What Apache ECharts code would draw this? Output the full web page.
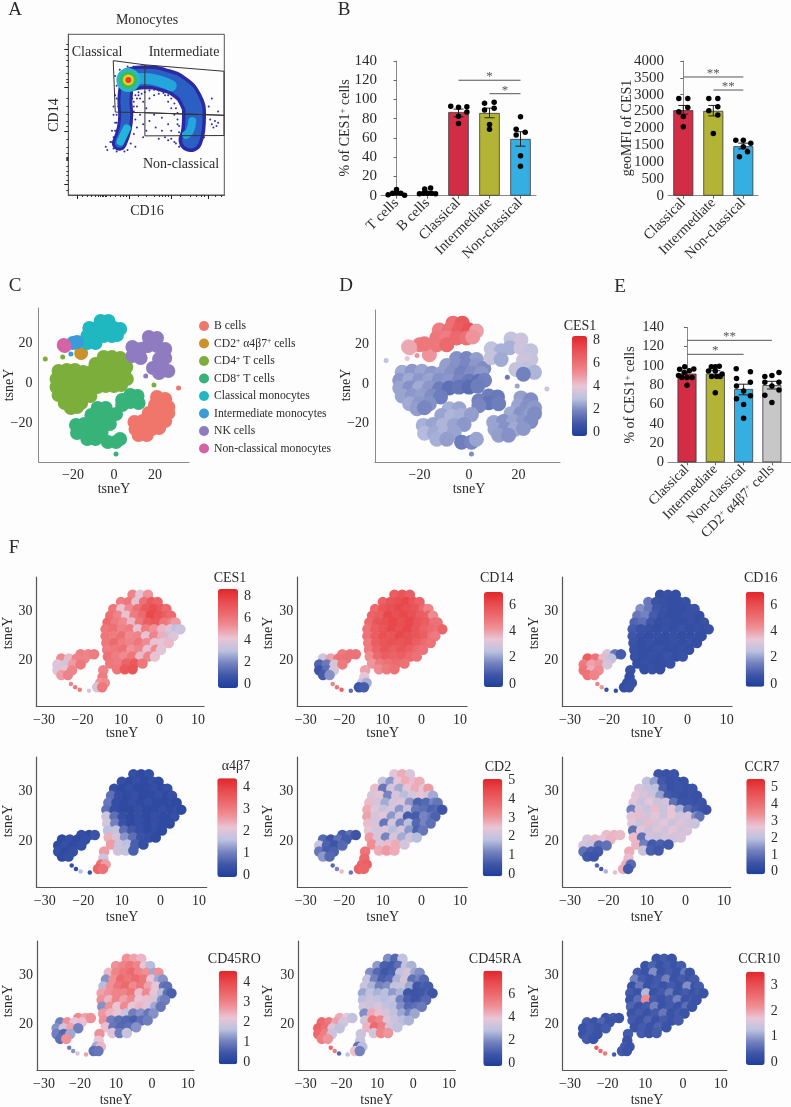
<!DOCTYPE html>
<html>
<head>
<meta charset="utf-8">
<style>
  html, body { margin: 0; background: #fdfdfd; }
  #main { width: 791px; height: 1107px; }
</style>
<script src="https://cdn.jsdelivr.net/npm/echarts@6/dist/echarts.min.js"></script>
</head>
<body>
<div id="main"></div>
<script>
// ---- panel A: gates, density ridges and stray events (percent of the plot box)
const gateClassical = [[28.8, 83.6], [49.1, 81], [49.1, 51.2], [30.1, 51.6], [28.8, 83.6]]
const gateIntermediate = [[49.1, 81], [99.8, 77], [99.8, 49.6], [49.1, 51.2]]
const gateNonClassical = [[49.1, 51.2], [99.8, 49.6], [99.8, 37], [49.1, 36.8], [49.1, 51.2]]
const flowArch = [[39.5, 72], [49.1, 73.2], [60.9, 71.6], [71.6, 67], [78.4, 59.1], [80.6, 49.8], [80.1, 40.5], [78.4, 34.2]]
const flowTail = [[38.5, 72], [36.3, 59], [36.8, 49.8], [35.9, 41.5], [32.7, 32.2]]
const flowArchCore = [[39.5, 72], [49.1, 72.5], [58, 71], [66, 68]]
const flowRightCore = [[79.5, 46], [78, 40], [75.5, 37.5]]
const flowTailCore = [[37.5, 41.5], [33.5, 33.2]]
const flowHot = [38.5, 71.6]
const flowSpecks = [[47, 80], [52, 79], [56, 78.5], [60, 78], [64, 77], [68, 75], [72, 73], [76, 70], [79, 68], [81, 65], [83, 62], [85, 58],
  [86, 54], [87, 50], [86, 46], [85, 42], [87, 36], [84, 32], [80, 31], [76, 30], [72, 31], [68, 33], [64, 34], [58, 35],
  [45, 62], [48, 58], [50, 54], [46, 50], [44, 55], [52, 60], [55, 62], [58, 63], [62, 62], [64, 58], [66, 54], [68, 50],
  [60, 48], [55, 50], [52, 46], [56, 42], [60, 40], [64, 44], [66, 40], [70, 44], [50, 40], [48, 44], [44, 42], [43, 47], [42, 58], [42, 52],
  [92, 44], [94, 46], [93, 42], [96, 45], [91, 47], [95, 43], [90, 55], [92, 60], [96, 52],
  [28, 40], [30, 45], [27, 33], [25, 28], [24, 30], [29, 55], [30, 62], [31, 68], [30, 74], [33, 78], [38, 80], [42, 80],
  [40, 45], [42, 38], [40, 32], [38, 28], [43, 30], [36, 27], [48, 36], [29, 50],
  [46, 60], [47, 63], [49, 64], [52, 65], [55, 65.5], [58, 65], [61, 63.5], [64, 62], [66, 60], [68, 57], [69, 54], [70, 51], [70, 47], [71, 43], [71, 39], [72, 36],
  [45, 64], [44, 60], [43, 62], [44, 66], [44, 79], [46, 78.5], [49, 79], [53, 78], [57, 77], [61, 76.5], [65, 75], [69, 72.5], [73, 70], [77, 67], [80, 64],
  [82, 60], [84, 56], [84.5, 52], [85, 48], [85, 44], [84.5, 40], [84, 36], [83, 33], [79, 30], [75, 29.5], [71, 30], [69, 32], [66, 35], [62, 36],
  [31, 60], [32, 55], [31, 50], [31, 45], [30, 40], [29, 36], [28, 33], [41, 60], [42, 55], [41, 50], [40, 47], [39, 40], [38, 36], [37, 32], [35, 29], [31, 27], [29, 29]]
const flowMajorX = [6, 39.1, 66.2, 89.7]
const flowMinorX = [9, 12, 15, 17, 19, 20.5, 21.5, 22.5, 23.5, 24.6, 27, 30, 33, 35, 37, 45, 50, 55, 58, 60, 62, 64, 72, 78, 82, 85, 87, 94, 98]
const flowMajorY = [90.7, 66.8, 39.4, 6.8]
const flowMinorY = [94, 87, 84, 80, 76, 72, 70, 60, 55, 50, 46, 43, 35, 30, 26, 23.8, 23, 22.4, 21.8, 18, 15, 12, 9, 3]

// ---- panels B and E: bars
const catsB1 = ['T cells', 'B cells', 'Classical', 'Intermediate', 'Non-classical']
const meansB1 = [2.5, 3, 87, 86, 59]
const errsB1 = [[0, 1.5, 3.5], [1, 2, 4], [2, 82, 90], [3, 81, 91], [4, 51.5, 66.5]]
const dotsB1 = [[-0.27, 1], [-0.13, 2.5], [0, 6.5], [0.14, 2.5], [0.26, 0.5], [0, 3],
  [0.74, 2], [0.87, 2.5], [1, 2.5], [1.13, 2.5], [1.26, 2], [0.91, 7], [1.1, 8],
  [1.75, 93], [2, 92], [2.27, 92.5], [2.27, 87], [2, 82.5], [2, 75],
  [2.84, 96], [3.15, 97], [2.84, 89], [3.15, 90.8], [3, 74], [3, 69],
  [4, 82], [3.86, 69], [4.15, 66], [3.86, 63], [4, 41.6], [4, 30.5]]
const sigB1 = [[2, 4, 120, '*'], [3, 4, 106, '*']]
const ticksB1 = [0, 20, 40, 60, 80, 100, 120, 140]

const catsB2 = ['Classical', 'Intermediate', 'Non-classical']
const meansB2 = [2540, 2520, 1470]
const errsB2 = [[0, 2420, 2680], [1, 2370, 2680], [2, 1390, 1560]]
const dotsB2 = [[-0.15, 2890], [0.15, 2890], [0.15, 2620], [-0.15, 2495], [0, 2350], [0, 2050],
  [0.85, 2890], [1.15, 2890], [0.85, 2525], [1.15, 2640], [1.15, 2395], [1, 1850],
  [1.75, 1650], [2, 1650], [2.25, 1555], [2, 1455], [2.14, 1305], [1.87, 1160]]
const sigB2 = [[0, 2, 3525, '**'], [1, 2, 3138, '**']]
const ticksB2 = [0, 500, 1000, 1500, 2000, 2500, 3000, 3500, 4000]

const catsE = ['Classical', 'Intermediate', 'Non-classical', 'CD2+ α4β7+ cells']
const meansE = [92, 92, 76, 80]
const errsE = [[0, 88, 94], [1, 89, 95], [2, 70, 81], [3, 76, 84]]
const dotsE = [[-0.08, 99], [-0.26, 96.4], [0.24, 96.8], [0.08, 95], [-0.1, 93], [-0.18, 88], [0, 88], [0.18, 88], [0, 80], [-0.3, 90],
  [0.86, 99], [1.14, 99.5], [0.76, 94.7], [1, 94.7], [1.24, 91.6], [0.87, 89], [1.05, 89], [1.17, 89], [1, 72], [1, 99],
  [1.74, 97], [2.24, 94], [1.75, 87], [2.24, 83], [1.75, 79], [2, 74], [1.75, 66], [2.24, 69], [2, 60], [2, 45.6],
  [2.75, 89], [3, 90], [3.25, 93], [2.75, 83], [3, 79], [3.25, 83], [3.25, 75], [2.75, 69.5], [3, 62]]
const sigE = [[0, 3, 126.5, '**'], [0, 2, 112, '*']]
const ticksE = [0, 20, 40, 60, 80, 100, 120, 140]
const barColors = ['#d32c45', '#b3b335', '#35aee2', '#c7c7c7']

// ---- panels C and D: all cell clusters
const clusterNames = ['B cells', 'CD2+ α4β7+ cells', 'CD4+ T cells', 'CD8+ T cells', 'Classical monocytes', 'Intermediate monocytes', 'NK cells', 'Non-classical monocytes']
const clusterColors = ['#f0766b', '#c9922a', '#7cae3c', '#37b37a', '#1fb7c0', '#3a9bd8', '#8f7bc0', '#d463a8']
const tsneB = [[21, -7], [25, -8], [20, -11], [23.5, -11.5], [26.5, -12], [17, -15], [21, -15], [25, -15.5], [26.5, -15], [10, -19.5], [14, -19], [18, -19], [22, -19], [25, -19],
  [10.5, -23], [14.5, -23], [18.5, -23], [22, -22.5], [12, -26], [16, -26]]
const tsneCD2 = [[-16, 15]]
const tsneCD4 = [[-5, 13], [-1, 13], [3, 12.5], [-9, 9.5], [-5, 9.5], [-1, 9.5], [3, 9.5], [6, 8],
  [-27, 6], [-23, 6.5], [-19, 6.5], [-15, 5.5], [-11, 5.5], [-7, 5.5], [-3, 5.5], [1, 5.5], [5, 5.5],
  [-28, 2], [-24, 2], [-20, 2], [-16, 2], [-12, 2], [-8, 1.5], [-4, 1.5], [0, 1.5], [4, 1.5], [6.3, 2],
  [-28, -2], [-24, -2], [-20, -2], [-16, -2], [-12, -2.5], [-8, -2], [-4, -1.5], [0, -1.5], [3.5, -1],
  [-27, -6], [-23, -6], [-19, -6], [-15, -6], [-11.5, -6.5], [-24, -10], [-20, -10], [-16, -10], [-21, -12.5], [-18, -12]]
const tsneCD8 = [[8, -6], [11.5, -6.5], [4, -8.5], [8, -9.5], [12, -10], [4, -11],
  [-8, -12.5], [-4, -12.5], [-11, -16], [-7, -16.5], [-3, -16], [1, -15.5],
  [-18.5, -21], [-14.5, -20.5], [-10.5, -21], [-6, -21], [-2, -20.5], [-18, -25], [-14, -25], [-10, -25], [-6, -24.5], [-13, -28], [-9, -28],
  [-3, -29.5], [1, -29.5], [3, -28]]
const tsneClassical = [[-6.5, 31], [-2.7, 31], [-12, 27.5], [-8, 27.5], [-4, 27.5], [0, 27.5], [3, 27], [-13, 23.5], [-9, 23.5], [-5, 23.5], [-1, 23.5], [1.5, 24], [-13, 20], [-9, 20]]
const tsneIntermediate = [[-20, 20], [-18, 20.5]]
const tsneNK = [[17, 23], [21, 22.5], [16.5, 18.5], [21, 18.5], [25, 17], [9, 18], [13, 17], [9, 13.5], [13, 12.5], [25, 12.5], [22, 12], [19, 7.5], [23, 8], [26.5, 6], [22, 5]]
const tsneNonClassical = [[-24.5, 19], [-24, 18.5]]
// small islands: x, y, cluster index, CES1
const tsneIslands = [[31.5, -2.5, 0, 3.4], [19.5, -1, 2, 2.4], [-33.5, 12, 2, 3], [15.5, 3.5, 6, 1.6], [1, -35.5, 3, 2], [-21, 14.5, 5, 5], [-25, 13, 2, 4]]

const cesB = [2.3, 2, 2.4, 2.1, 2.2, 2.5, 2.1, 2.3, 2, 2.4, 2.1, 2.4, 2.2, 2, 2.4, 2.1, 2.5, 2.2, 2.3, 2.1]
const cesCD2 = [5]
const cesCD4 = [2.1, 1.9, 2.3, 2.3, 2.1, 1.9, 2.2, 2, 2.5, 2.2, 2.4, 2.2, 2.3, 2.1, 1.8, 2, 2.2, 2.2, 2.5, 2.2, 2.4, 2.1, 2.2, 1.9, 1.6, 1.4, 1.8,
  2.4, 2.1, 2.5, 2.2, 1.7, 1.4, 1.5, 1.3, 1.7, 2.4, 2.2, 2.3, 2, 1.7, 2.5, 2.2, 2.1, 2.3, 1.9]
const cesCD8 = [1.7, 1.6, 1.8, 1.5, 1.7, 1.9, 2.6, 2.4, 2.4, 2.7, 2.6, 2.3, 2.6, 2.4, 2.7, 2.4, 2.2, 2.8, 2.5, 2.7, 2.4, 2.6, 2.3, 1.7, 1.9, 2.4]
const cesClassical = [6, 6.8, 5.6, 6, 6.6, 7, 4.8, 5.8, 5.6, 6.2, 6, 5, 5.8, 6.2]
const cesIntermediate = [5.6, 5.8]
const cesNK = [3.1, 3.3, 2.6, 3.3, 3.1, 3, 2.6, 3.1, 2.5, 3.2, 3.3, 3.1, 3, 2.7, 1.8]
const cesNonClassical = [4.4, 4.6]

// ---- panel F: monocyte map, rows of cells from top to bottom, then neck, left lobe and streak
const monoX = [-7, -5, -3,
  -10, -8, -6, -4, -2, -0.5,
  -12, -9.9, -7.8, -5.7, -3.6, -1.5, 0.6, 1.8,
  -12.8, -10.7, -8.6, -6.5, -4.4, -2.3, -0.2, 1.9, 3,
  -13.5, -11.4, -9.3, -7.2, -5.1, -3, -0.9, 1.2, 3.3, 4.2,
  -14, -11.9, -9.8, -7.7, -5.6, -3.5, -1.4, 0.7, 2.8, 4.4, 5.4,
  -14, -11.9, -9.8, -7.7, -5.6, -3.5, -1.4, 0.7, 2.8, 3.6,
  -13.8, -11.7, -9.6, -7.5, -5.4, -3.3, -1.2, 0.9, 2.4,
  -13.6, -11.5, -9.4, -7.3, -5.2, -3.1, -1, 0.4,
  -13.4, -11.3, -9.2, -7.1, -5, -2.9, -1.2,
  -12.8, -10.7, -8.6, -6.5, -4.4,
  -11, -9, -7,
  -14.6, -14.8, -15.4, -14.2, -16.2, -14.9,
  -20.5, -18.5, -17, -25.5, -23.5, -21.5, -19.5, -26.5, -24.5, -22.5, -20.5, -26.5, -24.5, -22.7, -25.5, -23.8,
  -23, -21.9, -20.7, -18.3]
const monoY = [33.5, 33.5, 33.5,
  32, 32, 32, 32, 32, 32,
  30.6, 30.6, 30.6, 30.6, 30.6, 30.6, 30.6, 30.6,
  29.2, 29.2, 29.2, 29.2, 29.2, 29.2, 29.2, 29.2, 29.2,
  27.8, 27.8, 27.8, 27.8, 27.8, 27.8, 27.8, 27.8, 27.8, 27.8,
  26.4, 26.4, 26.4, 26.4, 26.4, 26.4, 26.4, 26.4, 26.4, 26.4, 26.4,
  25, 25, 25, 25, 25, 25, 25, 25, 25, 25,
  23.6, 23.6, 23.6, 23.6, 23.6, 23.6, 23.6, 23.6, 23.6,
  22.2, 22.2, 22.2, 22.2, 22.2, 22.2, 22.2, 22.2,
  20.8, 20.8, 20.8, 20.8, 20.8, 20.8, 20.8,
  19.4, 19.4, 19.4, 19.4, 19.4,
  18.2, 18.2, 18.2,
  18, 16.6, 15.4, 15.4, 14.5, 14.5,
  21.3, 21.3, 21.3, 20.4, 20.4, 20.4, 20.4, 19.2, 19.2, 19.2, 19.2, 18, 18, 18, 17, 17,
  15.2, 14.5, 14, 13.8]
const valCES1 = [5.6, 4, 5.2, 5.8, 6, 4.2, 6.2, 7, 6.6, 6, 4.2, 5.4, 6.2, 7, 7.4, 7, 6.4, 6.2, 5.6, 4.2, 5.8, 6.4, 7.6, 7.2, 6.8, 6.4,
  6.4, 5.8, 5.4, 4.4, 6, 6.8, 7, 6, 5.6, 5, 6, 6.2, 5.6, 5.8, 4.2, 5.8, 5.2, 4.4, 3.9, 3, 3.4, 6, 5.8, 6.2, 5.4, 5.6, 4.2, 5.6, 4.6, 3.2, 3.8,
  6, 6.4, 5.8, 5.6, 6, 5.4, 4.2, 4, 4.4, 5.8, 6, 6.2, 5.2, 5.6, 4.2, 5.4, 4, 6.2, 5.8, 5.4, 6, 4.4, 5.6, 4.2, 6, 5.8, 6.6, 7, 6, 6, 7, 7.2,
  5.6, 5.8, 5.2, 5.4, 3.6, 6, 5.8, 5.6, 5.8, 5.4, 4.4, 5.6, 5.6, 3.8, 3.6, 5, 6, 3.8, 4.2, 5.6, 5, 5.6, 5.6, 6, 5.8, 3.8]
const valCD14 = [5.6, 5.8, 5.6, 5.4, 5.8, 6, 6.2, 5.8, 5.4, 5.2, 5.8, 6, 6.2, 6, 5.8, 5.2, 4.6, 5.4, 5.6, 6.2, 6, 6.2, 6, 5.6, 5.4, 4.4,
  5.2, 5.8, 6, 6.2, 6, 6.2, 5.8, 5.6, 5, 5, 5, 5.6, 5.8, 6.2, 6, 6.2, 5.8, 5.4, 5.2, 5, 5.4, 5, 5.6, 6, 5.8, 6.2, 6, 5.8, 5.6, 5, 4.8,
  4.8, 5.6, 5.8, 6, 5.8, 6, 5.6, 5.2, 5, 4.8, 5.4, 5.8, 5.6, 5.8, 5.6, 5.2, 5, 4.4, 5.2, 5.6, 5.4, 5.6, 5.2, 5, 4.2, 4.8, 5, 5.2, 5, 4.4, 4.8, 5,
  4, 3.4, 2.8, 2.2, 0.6, 0.8, 4.8, 5, 5, 2.8, 4, 5, 5, 1, 1.4, 3, 4.8, 0.6, 1.2, 3, 0.8, 1.8, 4.6, 5, 5.4, 1.2]
const valCD16 = [0.4, 0.5, 0.4, 1.4, 0.6, 0.5, 0.4, 0.4, 0.5, 1.8, 1.4, 0.7, 0.5, 0.4, 0.4, 0.5, 0.6, 1.4, 1.6, 0.8, 0.5, 0.4, 0.4, 0.5, 0.5, 0.4,
  1, 1.2, 0.7, 0.4, 0.5, 0.4, 0.4, 0.5, 0.4, 0.5, 0.8, 0.6, 0.5, 0.4, 0.5, 0.4, 0.6, 0.4, 0.5, 0.4, 0.5, 0.7, 0.5, 0.4, 0.5, 0.4, 0.5, 0.4, 0.4, 0.5, 0.4,
  0.6, 0.4, 0.5, 0.4, 0.4, 0.5, 0.4, 0.5, 0.4, 0.5, 0.4, 0.4, 0.5, 0.4, 0.4, 0.5, 0.4, 0.5, 0.4, 0.5, 0.4, 0.6, 0.4, 0.5, 0.4, 0.5, 0.4, 0.4, 0.5, 0.4, 0.5, 0.4,
  0.5, 0.4, 0.4, 0.5, 0.4, 0.5, 3, 1.4, 0.8, 5.6, 5, 3.6, 2.6, 4.8, 4, 4.2, 3, 5, 3.8, 4.4, 5, 4.6, 4.6, 4.2, 0.5, 0.4]
const valA4B7 = [0.3, 0.2, 0.3, 0.3, 0.2, 0.3, 0.2, 0.3, 0.2, 0.3, 0.2, 0.3, 0.2, 0.2, 0.3, 0.2, 0.3, 0.8, 0.3, 0.2, 0.3, 0.2, 0.2, 0.3, 0.2, 0.3,
  0.9, 0.3, 0.2, 0.3, 0.2, 0.3, 0.2, 0.2, 0.3, 0.2, 0.8, 0.3, 0.2, 0.2, 0.3, 0.2, 0.2, 0.3, 0.2, 0.3, 0.2, 1.8, 0.8, 0.3, 0.2, 0.3, 0.2, 0.3, 0.2, 0.2, 0.3,
  1.9, 1, 0.4, 0.2, 0.3, 0.2, 0.3, 0.2, 0.2, 1.6, 1.7, 0.8, 0.5, 0.3, 0.2, 0.3, 0.2, 2.4, 1.9, 1.2, 0.8, 0.4, 0.3, 0.2, 2.6, 1.8, 1.6, 0.6, 0.3, 1.8, 1.7, 0.6,
  2.6, 1.8, 3.2, 2.6, 3.4, 3.2, 0.3, 0.2, 0.4, 0.2, 0.3, 0.2, 0.3, 0.2, 0.3, 0.2, 0.3, 0.3, 0.2, 0.3, 0.2, 0.3, 0.3, 0.2, 1.6, 0.4]
const valCD2 = [2.4, 2.8, 2.2, 2, 1.4, 2.4, 2.8, 2.6, 2.8, 2.6, 1, 2.2, 1.6, 2.4, 2.8, 2.4, 3, 2.2, 2.4, 1.2, 2.2, 1.8, 2.2, 2.4, 2.2, 1.6,
  2.6, 2.2, 1.6, 2.2, 2.3, 1.4, 0.7, 0.8, 1.2, 1, 2.8, 2.4, 2, 2.2, 1.4, 2, 1, 0.9, 0.7, 0.8, 0.5, 2.9, 2.2, 2.4, 1.4, 2.1, 0.6, 0.6, 1.2, 1, 0.7,
  2.6, 2.2, 1, 2.2, 1.2, 1.8, 0.8, 1.2, 0.9, 2.4, 2.2, 2.3, 1.8, 2.2, 1.4, 0.7, 1, 3, 2.2, 1.2, 2.2, 1.6, 2.1, 1.8, 3.2, 2.3, 2.6, 2.8, 2.2, 2.8, 3, 2.8,
  3.6, 3.8, 3.8, 4, 4, 3.9, 0.6, 0.9, 0.5, 0.8, 0.5, 0.9, 0.6, 2.1, 0.7, 0.5, 0.8, 1, 0.6, 0.7, 1.4, 0.8, 0.8, 1.2, 2.6, 1]
const valCCR7 = [0.5, 0.4, 0.5, 2, 1.6, 0.6, 0.4, 0.5, 0.4, 2.4, 2.2, 2, 0.7, 0.4, 0.5, 0.4, 0.5, 2.6, 2.4, 2.2, 1.6, 0.6, 0.5, 0.4, 0.5, 0.4,
  2.6, 2.2, 2.6, 2.2, 2.3, 1, 0.5, 0.5, 0.4, 0.5, 1.2, 2.4, 2.2, 2.8, 2.2, 2.6, 1.8, 0.9, 0.6, 0.5, 0.4, 2.5, 2.8, 2.3, 2.6, 2.2, 2.7, 2.3, 2.4, 1.4, 1,
  2.6, 2.2, 2.8, 2.4, 2.6, 2.2, 2.5, 2.3, 2.2, 1, 2.6, 2.2, 2.5, 2.3, 2.6, 2.3, 2.4, 2.8, 1, 2.3, 2.2, 2.4, 2.3, 2.4, 2.9, 1.2, 0.6, 0.7, 0.6, 2.2, 0.7, 0.6,
  3, 2.8, 3, 0.9, 3, 0.6, 2.8, 2.9, 2.8, 2.4, 2.8, 2.6, 2.9, 2.4, 2.2, 0.9, 1, 1, 0.7, 0.6, 0.6, 0.5, 0.8, 0.6, 1.8, 2.8]
const valCD45RO = [2.8, 2.6, 2.4, 2.8, 3, 3.2, 3, 2.2, 1.6, 2.4, 3, 3.2, 3.4, 3, 2.8, 1.4, 2.8, 1.2, 2.8, 3.4, 3.2, 3.4, 3.2, 2.2, 1.4, 1.2,
  1.6, 2.8, 3.2, 3.4, 2.9, 3.2, 2.6, 2.2, 0.9, 0.8, 2.6, 2.8, 3, 3, 3.2, 2.3, 2.9, 2.2, 1.6, 0.8, 0.6, 2.8, 2.4, 3, 2.6, 2.9, 2.2, 2.3, 2, 1.2, 1,
  1.2, 2.8, 2.2, 2.9, 2.2, 2.4, 2.1, 1.4, 0.9, 2.7, 2.4, 2.2, 1.8, 1, 1.2, 0.9, 1.2, 2.8, 1, 0.8, 0.7, 0.6, 0.8, 1, 2.3, 0.9, 0.7, 0.8, 1.2, 2.1, 1, 1.8,
  2.8, 2.2, 1.4, 2.4, 0.8, 0.9, 2.9, 2.6, 2.8, 1, 2.8, 2.2, 2.3, 1.2, 1.9, 2.6, 1, 1, 0.7, 1.4, 0.8, 2.8, 1, 1.2, 2, 2.6]
const valCD45RA = [2, 1.2, 3, 2.2, 1, 0.9, 1.4, 3, 2.6, 2, 1.2, 0.8, 1, 3, 3.4, 2.4, 2, 3, 1.8, 1, 1.2, 2.6, 3.4, 1.4, 1.8, 1.2,
  3.2, 2.6, 1.8, 2, 3, 3.2, 2.4, 0.8, 1, 0.9, 2.4, 3, 2.6, 2.8, 2.2, 2.6, 0.8, 0.7, 0.8, 1, 0.7, 2.8, 3.2, 3, 2.8, 3, 1.8, 1, 0.7, 0.9, 1.2,
  3.4, 3.2, 3.5, 3, 2.8, 2, 1.2, 1.4, 1.6, 2, 4.4, 4, 3.4, 3, 2.4, 1.8, 2.4, 3.4, 5.6, 5.2, 3.6, 3.2, 2.8, 2.6, 4.2, 6, 5.4, 3.4, 3, 3.4, 5.2, 4.8,
  3.2, 3.2, 1.4, 2.8, 4, 1.8, 4.4, 3.8, 3, 6, 5.6, 4.6, 3.4, 6.2, 5.8, 3.6, 3, 6, 5.4, 3.2, 5.4, 4.8, 6, 5.4, 1.2, 3]
const valCCR10 = [0.3, 0.4, 0.3, 0.3, 0.5, 0.3, 0.4, 0.3, 0.4, 0.4, 0.3, 0.9, 0.3, 0.4, 0.3, 0.7, 0.3, 0.8, 0.4, 0.3, 0.4, 0.8, 0.3, 0.4, 0.3, 0.4,
  0.3, 0.7, 0.3, 0.4, 0.3, 0.4, 0.3, 0.9, 0.3, 0.4, 0.4, 0.3, 1.2, 0.3, 0.4, 0.7, 0.3, 0.4, 0.3, 0.4, 0.3, 0.3, 0.6, 2.2, 0.4, 0.3, 0.4, 0.8, 0.3, 0.4, 0.3,
  0.5, 0.3, 0.4, 0.8, 0.3, 0.4, 0.3, 0.6, 0.3, 0.3, 0.4, 0.3, 0.4, 0.7, 0.3, 0.4, 0.3, 0.4, 0.3, 0.5, 0.3, 0.4, 0.3, 0.4, 0.3, 0.4, 0.3, 0.5, 0.3, 0.4, 0.3, 0.4,
  0.4, 0.3, 0.4, 0.3, 0.4, 0.3, 0.3, 0.4, 0.3, 0.4, 0.3, 0.5, 0.3, 0.3, 0.4, 0.3, 0.4, 0.3, 0.4, 0.3, 0.4, 0.3, 2.8, 2.6, 2.4, 0.4]

const monoXTicks = [-30, -20, -10, 0, 10]
const monoXLabels = ['−30', '−20', '10', '0', '10'] // the figure prints 10 for the third tick
const monoYTicks = [20, 30]
const tsneXTicks = [-20, 0, 20]
const tsneYTicks = [-20, 0, 20]

const heat = ['#1e3e9a', '#3f56a8', '#7482bf', '#bcc2df', '#e9c5d6', '#ef8f95', '#ec6a6e', '#e84c4f', '#e1262a']
const serif = '"Liberation Serif", serif'
const ink = '#2b2b2b'
const axisGrey = '#555'

const option = {
  animation: false,
  backgroundColor: '#fdfdfd',
  textStyle: { fontFamily: serif },
  grid: [], xAxis: [], yAxis: [], series: [], visualMap: [], graphic: []
}

function text(x, y, str, size, extra) {
  option.graphic.push(Object.assign({
    type: 'text', x, y, silent: true,
    style: { text: str, font: size + 'px ' + serif, fill: ink, align: 'center', verticalAlign: 'middle' }
  }, extra || {}))
}
const supRich = {
  t: { fontFamily: serif, fontSize: 14, fill: ink, color: ink },
  s: { fontFamily: serif, fontSize: 9, fill: ink, color: ink, verticalAlign: 'top' }
}
function vtext(x, y, str, size) {
  text(x, y, str, size, { rotation: Math.PI / 2 })
}
function addGrid(l, r, t, b) {
  option.grid.push({ left: l, top: t, width: r - l, height: b - t, containLabel: false })
  return option.grid.length - 1
}
function addX(cfg) { option.xAxis.push(cfg); return option.xAxis.length - 1 }
function addY(cfg) { option.yAxis.push(cfg); return option.yAxis.length - 1 }
function pair(xs, ys, vs) { return xs.map((x, i) => [x, ys[i], vs[i]]) }

// ---- panel A
function panelA() {
  const g = addGrid(68.3, 224.3, 34.3, 195)
  option.grid[g].show = true
  option.grid[g].borderColor = axisGrey
  const line = { show: true, lineStyle: { color: axisGrey, width: 1 } }
  const xa = addX({ type: 'value', gridIndex: g, min: 0, max: 100, splitLine: { show: false }, axisLine: line, axisLabel: { show: false },
    axisTick: { customValues: flowMinorX, length: 2, lineStyle: { color: '#333' } } })
  const ya = addY({ type: 'value', gridIndex: g, min: 0, max: 100, splitLine: { show: false }, axisLine: line, axisLabel: { show: false },
    axisTick: { customValues: flowMinorY, length: 2, lineStyle: { color: '#333' } } })
  addX({ type: 'value', gridIndex: g, min: 0, max: 100, position: 'bottom', splitLine: { show: false }, axisLine: line, axisLabel: { show: false },
    axisTick: { customValues: flowMajorX, length: 4, lineStyle: { color: '#222' } } })
  addY({ type: 'value', gridIndex: g, min: 0, max: 100, position: 'left', splitLine: { show: false }, axisLine: line, axisLabel: { show: false },
    axisTick: { customValues: flowMajorY, length: 4, lineStyle: { color: '#222' } } })
  const base = { xAxisIndex: xa, yAxisIndex: ya }
  const ridge = (data, color, width, z) => option.series.push(Object.assign({
    type: 'line', data, smooth: true, showSymbol: false, z, lineStyle: { color, width, cap: 'round', join: 'round' }
  }, base))
  option.series.push(Object.assign({ type: 'scatter', data: flowSpecks, symbolSize: 2, itemStyle: { color: '#2d2da6', opacity: 1 }, z: 2 }, base))
  ridge(flowArch, '#2a2aa4', 24, 3)
  ridge(flowTail, '#2a2aa4', 15, 3)
  ridge(flowArch, '#2b5fc4', 17, 4)
  ridge(flowTail, '#2b5fc4', 9, 4)
  ridge(flowArchCore, '#22a6dc', 11, 5)
  ridge(flowRightCore, '#22a6dc', 8, 5)
  ridge(flowTailCore, '#22b4da', 8, 5)
  const spot = (size, color, z) => option.series.push(Object.assign({
    type: 'scatter', data: [flowHot], symbolSize: size, itemStyle: { color, opacity: 1 }, z }, base))
  spot(24, '#27b9c8', 6); spot(17, '#3fbb4f', 7); spot(11, '#e6d324', 8); spot(6, '#e2402a', 9)
  const gate = data => option.series.push(Object.assign({
    type: 'line', data, showSymbol: false, z: 10, lineStyle: { color: '#333', width: 1 } }, base))
  gate(gateClassical); gate(gateIntermediate); gate(gateNonClassical)
  text(147, 20, 'Monocytes', 14)
  text(97, 52, 'Classical', 14)
  text(184, 52, 'Intermediate', 14)
  text(181, 164, 'Non-classical', 14)
  text(147, 211, 'CD16', 14)
  vtext(54, 115, 'CD14', 14)
}

// ---- bar panels, x axis is numeric so the axis line can overrun the first and last band
function barPanel(p) {
  const g = addGrid(p.l, p.r, p.t, p.b)
  const min = -(p.c0 - p.l) / p.step
  const max = (p.r - p.c0) / p.step
  const idx = p.cats.map((c, i) => i)
  const xa = addX({
    type: 'value', gridIndex: g, min, max, splitLine: { show: false },
    axisLine: { show: true, onZero: false, lineStyle: { color: '#8a8a8a', width: 1 } },
    axisTick: { customValues: idx, length: 3, lineStyle: { color: '#666' } },
    axisLabel: {
      customValues: idx, rotate: 45, margin: 5, color: ink, fontSize: p.font, fontFamily: serif,
      rich: { t: { fontFamily: serif, fontSize: p.font, color: ink }, s: { fontFamily: serif, fontSize: 8, color: ink, verticalAlign: 'top' } },
      formatter: v => {
        const c = p.cats[Math.round(v)]
        return c.indexOf('+') < 0 ? c : '{t|CD2}{s|+}{t| α4β7}{s|+}{t| cells}'
      }
    }
  })
  const ya = addY({
    type: 'value', gridIndex: g, min: 0, max: p.ticks[p.ticks.length - 1], interval: p.ticks[1],
    splitLine: { show: false },
    axisLine: { show: true, lineStyle: { color: '#8a8a8a', width: 1 } },
    axisTick: { show: true, length: 3, lineStyle: { color: '#666' } },
    axisLabel: { color: ink, fontSize: p.font + 0.5, fontFamily: serif, margin: 4, formatter: v => String(v) }
  })
  const base = { xAxisIndex: xa, yAxisIndex: ya }
  option.series.push(Object.assign({
    type: 'bar', barWidth: p.barW, z: 2,
    data: p.means.map((v, i) => ({
      value: [i, v],
      itemStyle: { color: p.colors[i], borderColor: '#3a3a3a', borderWidth: 0.8 }
    }))
  }, base))
  option.series.push(Object.assign({
    type: 'custom', data: p.errs, z: 3, clip: false,
    encode: { x: 0, y: [1, 2] },
    renderItem(params, api) {
      const a = api.coord([api.value(0), api.value(1)])
      const b = api.coord([api.value(0), api.value(2)])
      const st = { stroke: '#222', lineWidth: 1 }
      return { type: 'group', children: [
        { type: 'line', shape: { x1: a[0], y1: a[1], x2: b[0], y2: b[1] }, style: st },
        { type: 'line', shape: { x1: a[0] - 5, y1: a[1], x2: a[0] + 5, y2: a[1] }, style: st },
        { type: 'line', shape: { x1: b[0] - 5, y1: b[1], x2: b[0] + 5, y2: b[1] }, style: st }
      ] }
    }
  }, base))
  option.series.push(Object.assign({ type: 'scatter', data: p.dots, symbolSize: 5.5, itemStyle: { color: '#000', opacity: 1 }, z: 4 }, base))
  option.series.push(Object.assign({
    type: 'custom', data: p.sig.map(s => s.slice(0, 3)), z: 3,
    encode: { x: [0, 1], y: 2 },
    renderItem(params, api) {
      const a = api.coord([api.value(0), api.value(2)])
      const b = api.coord([api.value(1), api.value(2)])
      return { type: 'group', children: [
        { type: 'line', shape: { x1: a[0], y1: a[1], x2: b[0], y2: b[1] }, style: { stroke: '#555', lineWidth: 1 } },
        { type: 'text', style: { x: (a[0] + b[0]) / 2, y: a[1] + 3, text: p.sig[params.dataIndex][3],
          font: '13px ' + serif, fill: '#555', align: 'center', verticalAlign: 'bottom' } }
      ] }
    }
  }, base))
}

// ---- panel C, one series per cluster
function panelC() {
  const g = addGrid(38.5, 189, 308, 462)
  const tsne = (min, max, ticks) => ({
    type: 'value', gridIndex: g, min, max, splitLine: { show: false },
    axisLine: { show: true, onZero: false, lineStyle: { color: '#8a8a8a', width: 1 } },
    axisTick: { show: false },
    axisLabel: { customValues: ticks, color: ink, fontSize: 14, fontFamily: serif, margin: 6, formatter: v => String(v).replace('-', '−') }
  })
  const xa = addX(tsne(-36.8, 36.6, tsneXTicks))
  const ya = addY(tsne(-39.5, 37.5, tsneYTicks))
  const clusters = [tsneB, tsneCD2, tsneCD4, tsneCD8, tsneClassical, tsneIntermediate, tsneNK, tsneNonClassical]
  clusters.forEach((pts, i) => option.series.push({
    type: 'scatter', name: clusterNames[i], xAxisIndex: xa, yAxisIndex: ya, data: pts,
    symbolSize: 14, itemStyle: { color: clusterColors[i], opacity: 1 }
  }))
  option.series.push({
    type: 'scatter', xAxisIndex: xa, yAxisIndex: ya, data: tsneIslands.map(d => [d[0], d[1]]), symbolSize: 5,
    itemStyle: { color: p => clusterColors[tsneIslands[p.dataIndex][2]], opacity: 1 }
  })
  option.legend = {
    data: clusterNames.map(n => ({ name: n, icon: 'circle' })), orient: 'vertical', left: 199, top: 320, padding: 0,
    itemWidth: 10, itemHeight: 10, itemGap: 5.5, selectedMode: false,
    textStyle: { fontFamily: serif, fontSize: 11.7, color: ink,
      rich: { t: { fontFamily: serif, fontSize: 11.7, color: ink }, s: { fontFamily: serif, fontSize: 7.5, color: ink, verticalAlign: 'top' } } },
    formatter: n => {
      if (n.indexOf('α4β7') >= 0) return '{t|CD2}{s|+}{t| α4β7}{s|+}{t| cells}'
      if (n.indexOf('CD4+') === 0) return '{t|CD4}{s|+}{t| T cells}'
      if (n.indexOf('CD8+') === 0) return '{t|CD8}{s|+}{t| T cells}'
      return n
    }
  }
  text(114, 489, 'tsneY', 14)
  vtext(9, 385, 'tsneY', 14)
}

// ---- colour bar: visualMap gradient plus an empty grid whose axis carries the ticks
function colorBar(seriesIndex, b) {
  const unit = (b.px0 - b.pxTop) / b.ticks[0]
  const min = -(b.y1 - b.px0) / unit
  const max = b.ticks[0] + (b.pxTop - b.y0) / unit
  option.visualMap.push({
    type: 'continuous', seriesIndex, dimension: 2, min, max, left: b.x0, top: b.y0, padding: 0,
    itemWidth: b.x1 - b.x0, itemHeight: b.y1 - b.y0, calculable: false, realtime: false, hoverLink: false,
    text: null, showLabel: false, inRange: { color: heat }, z: 3
  })
  const g = addGrid(b.x0, b.x1, b.y0, b.y1)
  addX({ type: 'value', gridIndex: g, show: false, min: 0, max: 1 })
  addY({
    type: 'value', gridIndex: g, min, max, position: 'right', z: 8, splitLine: { show: false },
    axisLine: { show: false },
    axisTick: { show: true, customValues: b.ticks, inside: true, length: 4, lineStyle: { color: '#fff', width: 1, opacity: 0.7 } },
    axisLabel: { customValues: b.ticks, color: ink, fontSize: 14, fontFamily: serif, margin: 6 }
  })
  text(b.titleX, b.titleY, b.title, 14)
}

// ---- panel D, same cells as C coloured by CES1
function panelD() {
  const g = addGrid(375, 560, 310, 462)
  const tsne = (min, max, ticks) => ({
    type: 'value', gridIndex: g, min, max, splitLine: { show: false },
    axisLine: { show: true, onZero: false, lineStyle: { color: '#8a8a8a', width: 1 } },
    axisTick: { show: false },
    axisLabel: { customValues: ticks, color: ink, fontSize: 14, fontFamily: serif, margin: 6, formatter: v => String(v).replace('-', '−') }
  })
  const xa = addX(tsne(-38, 36.8, tsneXTicks))
  const ya = addY(tsne(-39.6, 37.7, tsneYTicks))
  const cells = [[tsneB, cesB], [tsneCD2, cesCD2], [tsneCD4, cesCD4], [tsneCD8, cesCD8], [tsneClassical, cesClassical],
    [tsneIntermediate, cesIntermediate], [tsneNK, cesNK], [tsneNonClassical, cesNonClassical]]
  let data = []
  cells.forEach(c => { data = data.concat(c[0].map((q, i) => [q[0], q[1], c[1][i]])) })
  option.series.push({ type: 'scatter', xAxisIndex: xa, yAxisIndex: ya, data, symbolSize: 15, itemStyle: { opacity: 1 } })
  const big = option.series.length - 1
  option.series.push({ type: 'scatter', xAxisIndex: xa, yAxisIndex: ya, data: tsneIslands.map(d => [d[0], d[1], d[3]]), symbolSize: 5, itemStyle: { opacity: 1 } })
  colorBar([big, big + 1], { x0: 572, x1: 587, y0: 336, y1: 436, px0: 432, pxTop: 340, ticks: [8, 6, 4, 2, 0], title: 'CES1', titleX: 580, titleY: 326 })
  text(469, 489, 'tsneY', 14)
  vtext(346, 385, 'tsneY', 14)
}

// ---- panel F, nine small maps
function panelF(p) {
  const g = addGrid(p.l, p.r, p.t, p.b)
  const pxX = (p.x10 - p.x30) / 40
  const pxY = (p.y20 - p.y30) / 10
  const line = { show: true, onZero: false, lineStyle: { color: axisGrey, width: 1.2 } }
  const xa = addX({
    type: 'value', gridIndex: g, min: -30 - (p.x30 - p.l) / pxX, max: 10 + (p.r - p.x10) / pxX, splitLine: { show: false },
    axisLine: line, axisTick: { show: false },
    axisLabel: { customValues: monoXTicks, color: ink, fontSize: 14, fontFamily: serif, margin: 7,
      formatter: v => monoXLabels[monoXTicks.indexOf(v)] }
  })
  const ya = addY({
    type: 'value', gridIndex: g, min: 20 - (p.b - p.y20) / pxY, max: 30 + (p.y30 - p.t) / pxY, splitLine: { show: false },
    axisLine: line, axisTick: { show: false },
    axisLabel: { customValues: monoYTicks, color: ink, fontSize: 14, fontFamily: serif, margin: 4 }
  })
  option.series.push({
    type: 'scatter', xAxisIndex: xa, yAxisIndex: ya, data: pair(monoX, monoY, p.values),
    itemStyle: { opacity: 1 },
    symbolSize: (v, q) => q.dataIndex >= monoX.length - 4 ? 4.5 : 10.5
  })
  colorBar(option.series.length - 1, p.bar)
  text(p.xl, p.xly, 'tsneY', 14)
  vtext(p.yl, p.yly, 'tsneY', 14)
}

panelA()
barPanel({ l: 381, r: 536, t: 61, b: 195.7, c0: 396.5, step: 31, barW: 20.5, cats: catsB1, means: meansB1, errs: errsB1, dots: dotsB1, sig: sigB1,
  ticks: ticksB1, font: 14.5, colors: ['#d32c45', '#d32c45'].concat(barColors) })
barPanel({ l: 668, r: 758, t: 61, b: 195.7, c0: 683.3, step: 30, barW: 20, cats: catsB2, means: meansB2, errs: errsB2, dots: dotsB2, sig: sigB2,
  ticks: ticksB2, font: 14.5, colors: barColors })
barPanel({ l: 668, r: 791, t: 327.3, b: 462.3, c0: 687, step: 28.3, barW: 19, cats: catsE, means: meansE, errs: errsE, dots: dotsE, sig: sigE,
  ticks: ticksE, font: 14, colors: barColors })
option.graphic.push({ type: 'text', x: 345, y: 128, rotation: Math.PI / 2, silent: true, style: { text: '{t|% of CES1}{s|+}{t| cells}', align: 'center', verticalAlign: 'middle', rich: supRich } })
vtext(627, 128, 'geoMFI of CES1', 14)
option.graphic.push({ type: 'text', x: 630, y: 395, rotation: Math.PI / 2, silent: true, style: { text: '{t|% of CES1}{s|+}{t| cells}', align: 'center', verticalAlign: 'middle', rich: supRich } })

panelC()
panelD()

const base1 = { t: 577, b: 706.5, y30: 611.8, y20: 660.5, xly: 733, yly: 633 }
const base2 = { t: 757, b: 887, y30: 791.7, y20: 841.5, xly: 917, yly: 821 }
const base3 = { t: 941, b: 1070, y30: 975.7, y20: 1024.3, xly: 1100, yly: 1001 }
const tk = [6, 4, 2, 0]
panelF(Object.assign({}, base1, { values: valCES1, l: 36.5, r: 204, x30: 44, x10: 198, xl: 122, yl: 8,
  bar: { x0: 218, x1: 238, y0: 589, y1: 688, px0: 684, pxTop: 596, ticks: [8, 6, 4, 2, 0], title: 'CES1', titleX: 230, titleY: 578 } }))
panelF(Object.assign({}, base1, { values: valCD14, l: 297.3, r: 467, x30: 305.7, x10: 460, xl: 382.7, yl: 268,
  bar: { x0: 484, x1: 503, y0: 592, y1: 687, px0: 684, pxTop: 605.3, ticks: tk, title: 'CD14', titleX: 496.7, titleY: 578 } }))
panelF(Object.assign({}, base1, { values: valCD16, l: 562.3, r: 732, x30: 570, x10: 726.7, xl: 647, yl: 534,
  bar: { x0: 745.7, x1: 764.3, y0: 592, y1: 686.7, px0: 684, pxTop: 605.3, ticks: tk, title: 'CD16', titleX: 760.7, titleY: 578 } }))
panelF(Object.assign({}, base2, { values: valA4B7, l: 36.5, r: 206.7, x30: 44.7, x10: 199, xl: 122, yl: 8,
  bar: { x0: 217.3, x1: 237, y0: 778.3, y1: 877, px0: 875, pxTop: 787.7, ticks: [4, 3, 2, 1, 0], title: 'α4β7', titleX: 236, titleY: 766.7 } }))
panelF(Object.assign({}, base2, { values: valCD2, l: 297.3, r: 467.3, x30: 305.7, x10: 460, xl: 382.7, yl: 268,
  bar: { x0: 482.7, x1: 502.3, y0: 779, y1: 876.3, px0: 874, pxTop: 780.7, ticks: [5, 4, 3, 2, 1, 0], title: 'CD2', titleX: 498, titleY: 767 } }))
panelF(Object.assign({}, base2, { values: valCCR7, l: 562.7, r: 730.7, x30: 570, x10: 724, xl: 647, yl: 534,
  bar: { x0: 746.3, x1: 765, y0: 779, y1: 874.3, px0: 871.7, pxTop: 787.7, ticks: [5, 4, 3, 2, 1, 0], title: 'CCR7', titleX: 762, titleY: 767 } }))
panelF(Object.assign({}, base3, { values: valCD45RO, l: 37, r: 194, x30: 44, x10: 188, xl: 116, yl: 8,
  bar: { x0: 218.7, x1: 237.3, y0: 971, y1: 1064.3, px0: 1062, pxTop: 982.3, ticks: [4, 3, 2, 1, 0], title: 'CD45RO', titleX: 234.3, titleY: 959.3 } }))
panelF(Object.assign({}, base3, { values: valCD45RA, l: 298.3, r: 455.3, x30: 305.7, x10: 449, xl: 376.7, yl: 268,
  bar: { x0: 483.3, x1: 502.3, y0: 970.7, y1: 1066, px0: 1063, pxTop: 994, ticks: tk, title: 'CD45RA', titleX: 495.3, titleY: 959.3 } }))
panelF(Object.assign({}, base3, { values: valCCR10, l: 562.7, r: 726.7, x30: 570, x10: 720.7, xl: 647, yl: 534,
  bar: { x0: 746, x1: 764.7, y0: 971.7, y1: 1065, px0: 1062.7, pxTop: 985, ticks: [3, 2, 1, 0], title: 'CCR10', titleX: 759.3, titleY: 959.3 } }))

// panel letters
text(15, 10, 'A', 19); text(344, 10, 'B', 19); text(15, 286, 'C', 19)
text(346, 286, 'D', 19); text(620, 287, 'E', 19); text(14, 548, 'F', 19)

const chart = echarts.init(document.getElementById('main'), null, { renderer: 'canvas' })
chart.setOption(option)
</script>
</body>
</html>
